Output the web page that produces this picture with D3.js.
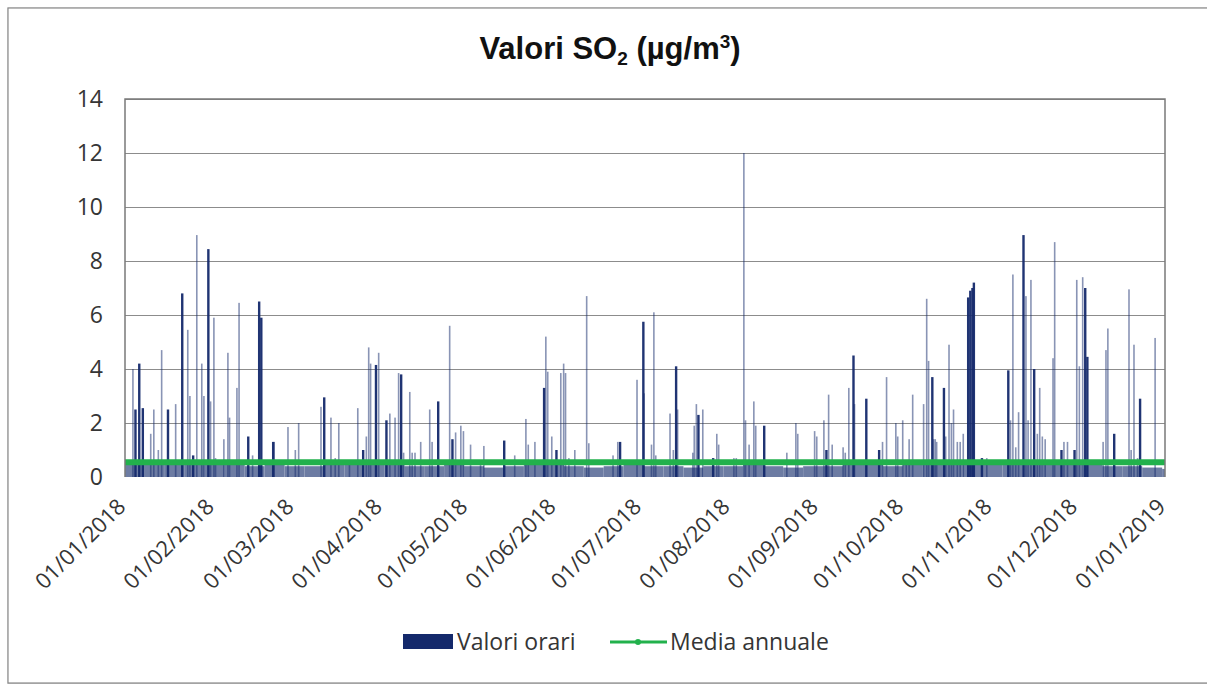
<!DOCTYPE html>
<html><head><meta charset="utf-8">
<script src="https://cdn.jsdelivr.net/npm/d3@7"></script>
<style>body{margin:0;background:#fff;overflow:hidden;}svg{display:block;}</style>
</head><body>
<script>
// ---- data ----
const title = "Valori SO";
const seriesNames = ["Valori orari", "Media annuale"];
const yTicks = [0, 2, 4, 6, 8, 10, 12, 14];
const monthTicks = ["2018-01-01","2018-02-01","2018-03-01","2018-04-01","2018-05-01","2018-06-01","2018-07-01","2018-08-01","2018-09-01","2018-10-01","2018-11-01","2018-12-01","2019-01-01"];
const mediaAnnuale = 0.55;
// weekly background level of hourly values
const weekBase = [0.45,0.5,0.45,0.5,0.5,0.45,0.4,0.45,0.4,0.4,0.45,0.5,0.45,0.45,0.4,0.4,0.45,0.4,0.35,0.4,0.45,0.45,0.4,0.35,0.4,0.45,0.4,0.4,0.35,0.4,0.4,0.45,0.4,0.35,0.4,0.4,0.45,0.45,0.4,0.45,0.5,0.45,0.5,0.45,0.5,0.5,0.45,0.5,0.45,0.4,0.4,0.35,0.3];
// hourly peaks: time, value, duration (hours)
const peakTimes = ["2018-01-03 12","2018-01-04 06","2018-01-05 14","2018-01-06 20","2018-01-09 18","2018-01-10 20","2018-01-12 10","2018-01-13 14","2018-01-15 16","2018-01-18 12","2018-01-20 16","2018-01-22 18","2018-01-23 12","2018-01-24 12","2018-01-25 22","2018-01-27 16","2018-01-28 10","2018-01-29 20","2018-01-30 18","2018-01-31 22","2018-02-01 12","2018-02-04 10","2018-02-05 20","2018-02-06 10","2018-02-09 00","2018-02-09 18","2018-02-12 20","2018-02-14 12","2018-02-16 16","2018-02-17 10","2018-02-21 14","2018-02-22 02","2018-02-26 22","2018-03-01 12","2018-03-02 16","2018-03-10 12","2018-03-11 12","2018-03-14 00","2018-03-15 12","2018-03-16 18","2018-03-20 12","2018-03-23 10","2018-03-25 04","2018-03-26 10","2018-03-27 06","2018-03-27 22","2018-03-29 16","2018-03-30 18","2018-04-02 08","2018-04-03 16","2018-04-05 12","2018-04-06 18","2018-04-07 12","2018-04-08 12","2018-04-10 16","2018-04-11 12","2018-04-12 12","2018-04-14 12","2018-04-17 16","2018-04-18 12","2018-04-20 12","2018-04-24 16","2018-04-25 12","2018-04-26 18","2018-04-28 14","2018-04-29 12","2018-05-02 00","2018-05-05 12","2018-05-06 16","2018-05-13 16","2018-05-17 12","2018-05-21 10","2018-05-22 06","2018-05-24 14","2018-05-27 16","2018-05-28 10","2018-05-29 02","2018-05-30 12","2018-06-01 00","2018-06-02 16","2018-06-03 16","2018-06-04 08","2018-06-05 12","2018-06-07 14","2018-06-11 18","2018-06-12 12","2018-06-21 00","2018-06-22 16","2018-06-23 08","2018-06-29 10","2018-07-01 12","2018-07-01 22","2018-07-04 12","2018-07-05 08","2018-07-06 00","2018-07-11 00","2018-07-12 04","2018-07-13 00","2018-07-13 16","2018-07-19 00","2018-07-19 12","2018-07-20 06","2018-07-20 20","2018-07-22 12","2018-07-26 00","2018-07-27 10","2018-07-28 02","2018-08-02 10","2018-08-03 06","2018-08-05 22","2018-08-06 12","2018-08-07 18","2018-08-09 10","2018-08-10 02","2018-08-12 22","2018-08-21 00","2018-08-24 04","2018-08-24 20","2018-08-30 18","2018-08-31 12","2018-09-03 00","2018-09-03 18","2018-09-04 16","2018-09-05 22","2018-09-09 18","2018-09-10 12","2018-09-11 18","2018-09-13 06","2018-09-13 18","2018-09-17 18","2018-09-22 06","2018-09-23 14","2018-09-25 00","2018-09-28 06","2018-09-28 22","2018-09-30 16","2018-10-01 22","2018-10-02 22","2018-10-04 04","2018-10-08 00","2018-10-09 02","2018-10-09 18","2018-10-10 22","2018-10-11 12","2018-10-12 02","2018-10-12 14","2018-10-15 00","2018-10-15 18","2018-10-16 22","2018-10-17 18","2018-10-18 12","2018-10-19 20","2018-10-20 20","2018-10-21 22","2018-10-23 12","2018-10-24 06","2018-10-25 00","2018-10-25 12","2018-10-28 08","2018-10-30 04","2018-11-06 14","2018-11-07 12","2018-11-08 08","2018-11-09 08","2018-11-10 08","2018-11-11 22","2018-11-12 22","2018-11-13 16","2018-11-14 16","2018-11-15 16","2018-11-16 22","2018-11-17 18","2018-11-18 16","2018-11-19 16","2018-11-22 10","2018-11-23 00","2018-11-25 06","2018-11-26 06","2018-11-27 12","2018-11-29 20","2018-11-30 18","2018-12-01 16","2018-12-02 20","2018-12-03 14","2018-12-04 08","2018-12-10 00","2018-12-11 00","2018-12-11 16","2018-12-13 18","2018-12-19 02","2018-12-19 20","2018-12-20 20","2018-12-22 02","2018-12-22 20","2018-12-28 06"];
const peakValues = [4.0,2.5,4.2,2.55,1.6,2.5,1.0,4.7,2.5,2.7,6.8,5.45,3.0,0.8,8.96,4.2,3.0,8.44,2.8,5.9,0.7,1.4,4.6,2.2,3.3,6.45,1.5,0.8,6.5,5.9,1.3,1.3,1.85,1.0,2.0,2.6,2.95,2.2,0.7,2.0,0.6,2.55,1.0,1.5,4.8,4.2,4.15,4.6,2.1,2.35,2.2,3.85,3.8,0.9,3.15,0.9,0.9,1.3,2.5,1.3,2.8,5.6,1.4,1.65,1.9,1.7,1.2,0.6,1.15,1.35,0.8,2.15,1.2,1.3,3.3,5.2,3.9,1.5,1.0,3.85,4.2,3.85,0.7,1.0,6.7,1.25,0.8,1.3,1.3,3.6,5.75,3.1,1.2,6.1,0.8,2.35,1.0,4.1,2.5,0.9,1.9,2.7,2.3,2.5,0.7,1.6,1.2,0.7,0.7,12.0,2.1,1.2,2.8,1.9,1.9,0.9,2.0,1.6,1.7,1.5,2.1,1.0,3.05,1.2,1.1,0.9,3.3,4.5,2.7,2.9,1.0,1.3,3.7,2.0,1.5,2.1,0.5,1.4,3.05,2.7,6.6,4.3,3.7,1.4,1.4,1.3,3.3,1.5,4.9,2.0,2.5,1.3,1.3,1.6,6.65,6.9,7.0,7.2,0.7,0.7,3.95,2.1,7.5,1.1,2.4,8.96,6.7,2.1,7.3,4.0,1.6,3.3,1.5,1.4,4.4,8.7,1.0,1.3,1.3,1.0,7.3,4.1,7.4,7.0,4.45,1.3,4.7,5.5,1.6,6.95,1.0,4.9,0.7,2.9,5.15];
const peakHours = [1,3,3,4,1,1,1,1,4,1,4,1,1,4,1,1,1,4,1,1,1,1,1,1,1,1,4,1,4,4,4,1,1,1,1,1,4,1,1,1,1,1,4,1,1,1,4,1,4,1,1,1,4,1,1,1,1,1,1,1,4,1,4,1,1,1,1,1,1,4,1,1,1,1,4,1,1,1,4,1,1,1,1,1,2,1,1,1,4,1,3,1,1,1,1,1,1,3,1,1,1,1,4,1,4,1,1,1,1,2,1,1,1,1,3,1,1,1,1,1,1,4,1,1,1,1,1,4,1,4,4,1,1,1,1,1,1,1,1,1,1,1,4,1,1,1,4,1,1,1,1,1,1,1,5,5,5,3,4,1,4,1,1,1,1,4,1,1,1,4,1,1,1,1,1,1,4,1,1,4,1,1,1,4,4,1,1,1,4,1,1,1,1,4,1];

// ---- chart ----
const W = 1207, H = 684;
const svg = d3.select("body").append("svg").attr("width", W).attr("height", H);
const parseH = d3.timeParse("%Y-%m-%d %H");
const parseD = d3.timeParse("%Y-%m-%d");
const fmt = d3.timeFormat("%d/%m/%Y");
const x = d3.scaleTime().domain([parseD("2018-01-01"), parseD("2019-01-01")]).range([125, 1165]);
const y = d3.scaleLinear().domain([0, 14]).range([477, 99]);
const navy = "#14296b", green = "#22b14c", textCol = "#353535";
const font = "'Open Sans', 'DejaVu Sans', sans-serif";

// outer frame
svg.append("rect").attr("x", 9).attr("y", 9).attr("width", 1260).attr("height", 675)
  .attr("fill", "none").attr("stroke", "#c8c8c8").attr("stroke-width", 3);
svg.append("rect").attr("x", 8).attr("y", 8).attr("width", 1260).attr("height", 675)
  .attr("fill", "#fff").attr("stroke", "#8a8a8a").attr("stroke-width", 1.2);

// title
const t = svg.append("text").attr("x", 610).attr("y", 59).attr("text-anchor", "middle")
  .attr("font-family", "'Liberation Sans Narrow', 'Arial Narrow', 'Liberation Sans', sans-serif")
  .attr("font-weight", "bold").attr("font-size", 31).attr("fill", "#111");
t.append("tspan").text(title);
t.append("tspan").attr("font-size", 19).attr("dy", 6).text("2");
t.append("tspan").attr("dy", -6).text(" (µg/m");
t.append("tspan").attr("font-size", 19).attr("dy", -11).text("3");
t.append("tspan").attr("dy", 11).text(")");

// gridlines
svg.append("g").selectAll("line").data(yTicks.filter(v => v > 0)).join("line")
  .attr("x1", x.range()[0]).attr("x2", x.range()[1])
  .attr("y1", d => Math.round(y(d)) + 0.5).attr("y2", d => Math.round(y(d)) + 0.5)
  .attr("stroke", "#8c8c8c").attr("stroke-width", 1.2);

// y labels
svg.append("g").selectAll("text").data(yTicks).join("text")
  .attr("x", 103).attr("y", d => y(d) + 8).attr("text-anchor", "end")
  .attr("font-family", font).attr("font-size", 23).attr("fill", textCol).text(d => d);

// background band of hourly values
const wk0 = parseD("2018-01-01");
svg.append("g").selectAll("rect").data(weekBase).join("rect")
  .attr("x", (d, i) => x(d3.timeDay.offset(wk0, i * 7)))
  .attr("width", (d, i) => Math.max(0, Math.min(x.range()[1], x(d3.timeDay.offset(wk0, i * 7 + 7))) - x(d3.timeDay.offset(wk0, i * 7))))
  .attr("y", d => y(d)).attr("height", d => y(0) - y(d))
  .attr("fill", "#6d7ca3");

// peaks
const peaks = peakTimes.map((tt, i) => ({ t: parseH(tt), v: peakValues[i], h: peakHours[i] }));
svg.append("g").selectAll("rect").data(peaks).join("rect")
  .attr("x", d => x(d.t))
  .attr("width", d => d.h >= 3 ? 2.4 : 1.6)
  .attr("y", d => y(d.v)).attr("height", d => y(0) - y(d.v))
  .attr("fill", navy).attr("fill-opacity", d => d.h >= 3 ? 0.95 : 0.5);

// mean line
svg.append("path").datum(x.domain())
  .attr("d", d3.line().x(d => x(d)).y(() => y(mediaAnnuale)))
  .attr("stroke", green).attr("stroke-width", 6).attr("fill", "none");

// plot border
svg.append("path")
  .attr("d", `M${x.range()[0]},${y(0)}V${y(14)}H${x.range()[1]}V${y(0)}`)
  .attr("fill", "none").attr("stroke", "#7a7a7a").attr("stroke-width", 1.5);

// x labels
svg.append("g").selectAll("text").data(monthTicks.map(parseD)).join("text")
  .attr("transform", d => `translate(${x(d) + 2},${508}) rotate(-45)`)
  .attr("text-anchor", "end").attr("font-family", font).attr("font-size", 22)
  .attr("fill", textCol).text(d => fmt(d));

// legend
const lg = svg.append("g").attr("font-family", font).attr("font-size", 23).attr("fill", textCol);
lg.append("rect").attr("x", 403).attr("y", 634).attr("width", 50).attr("height", 15).attr("fill", navy);
lg.append("text").attr("x", 457).attr("y", 650).text(seriesNames[0]);
lg.append("line").attr("x1", 610).attr("x2", 667).attr("y1", 642).attr("y2", 642).attr("stroke", green).attr("stroke-width", 3);
lg.append("circle").attr("cx", 638).attr("cy", 642).attr("r", 3).attr("fill", green);
lg.append("text").attr("x", 670).attr("y", 650).text(seriesNames[1]);
</script>
</body></html>
